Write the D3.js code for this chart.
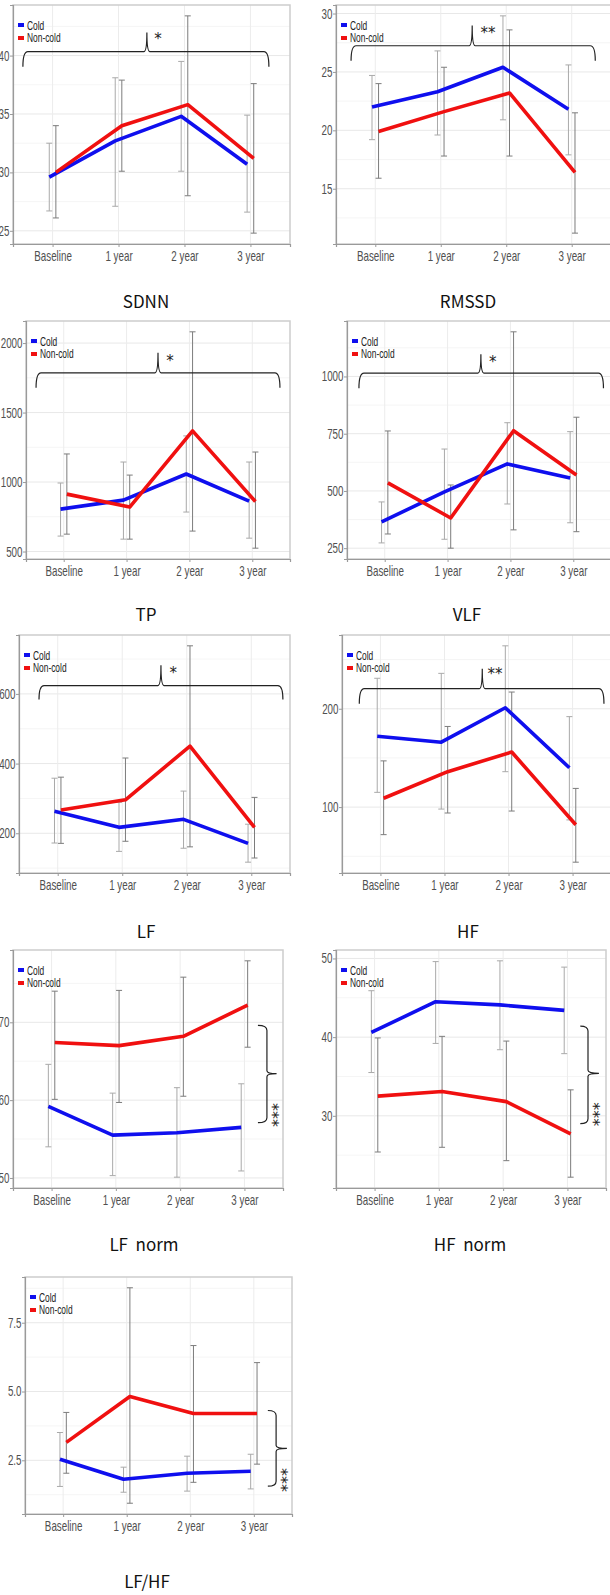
<!DOCTYPE html>
<html>
<head>
<meta charset="utf-8">
<script src="https://cdn.jsdelivr.net/npm/d3@7"></script>
<style>
body { margin: 0; background: #fff; }
svg text { font-family: "Liberation Sans", Arial, sans-serif; }
svg text.title { font-family: "Noto Sans CJK KR", "Noto Sans", sans-serif; font-size: 17px; fill: #111; white-space: pre; }
svg text.star { font-family: "DejaVu Sans", sans-serif; font-size: 15px; fill: #222; }
</style>
</head>
<body>
<script>
var categories = ["Baseline", "1 year", "2 year", "3 year"];
var groups = ["Cold", "Non-cold"];

// SDNN
var sdnnTicks = [25, 30, 35, 40];
var sdnnCold = [29.6, 32.7, 34.8, 30.7];
var sdnnColdLo = [26.7, 27.1, 30.1, 26.6];
var sdnnColdHi = [32.5, 38.1, 39.5, 34.9];
var sdnnNon = [30.0, 34.0, 35.8, 31.2];
var sdnnNonLo = [26.1, 30.1, 28.0, 24.8];
var sdnnNonHi = [34.0, 37.9, 43.4, 37.6];

// RMSSD
var rmssdTicks = [15, 20, 25, 30];
var rmssdCold = [22.0, 23.3, 25.4, 21.8];
var rmssdColdLo = [19.2, 19.6, 20.9, 17.9];
var rmssdColdHi = [24.7, 26.8, 29.8, 25.6];
var rmssdNon = [19.9, 21.6, 23.2, 16.4];
var rmssdNonLo = [15.9, 17.8, 17.8, 11.2];
var rmssdNonHi = [24.0, 25.4, 28.6, 21.5];

// TP
var tpTicks = [500, 1000, 1500, 2000];
var tpCold = [805, 870, 1058, 863];
var tpColdLo = [611, 589, 784, 596];
var tpColdHi = [993, 1144, 1332, 1144];
var tpNon = [913, 820, 1368, 860];
var tpNonLo = [625, 589, 647, 524];
var tpNonHi = [1202, 1050, 2081, 1216];

// VLF
var vlfTicks = [250, 500, 750, 1000];
var vlfCold = [365, 496, 618, 557];
var vlfColdLo = [273, 289, 443, 361];
var vlfColdHi = [452, 683, 798, 759];
var vlfNon = [535, 382, 763, 570];
var vlfNonLo = [312, 250, 330, 322];
var vlfNonHi = [762, 526, 1195, 822];

// LF
var lfTicks = [200, 400, 600];
var lfCold = [263, 217, 240, 171];
var lfColdLo = [172, 148, 157, 117];
var lfColdHi = [358, 289, 321, 226];
var lfNon = [267, 296, 450, 217];
var lfNonLo = [171, 177, 161, 129];
var lfNonHi = [361, 416, 738, 303];

// HF
var hfTicks = [100, 200];
var hfCold = [172, 166, 201, 140];
var hfColdLo = [115, 98, 136, 87];
var hfColdHi = [231, 236, 264, 192];
var hfNon = [109, 136, 156, 82];
var hfNonLo = [72, 94, 96, 44];
var hfNonHi = [147, 182, 217, 119];

// LF norm
var lfnTicks = [50, 60, 70];
var lfnCold = [59.2, 55.5, 55.8, 56.5];
var lfnColdLo = [54.0, 50.3, 50.1, 50.9];
var lfnColdHi = [64.6, 60.9, 61.6, 62.1];
var lfnNon = [67.4, 67.0, 68.2, 72.2];
var lfnNonLo = [60.1, 59.7, 60.5, 66.8];
var lfnNonHi = [74.0, 74.1, 75.8, 77.9];

// HF norm
var hfnTicks = [30, 40, 50];
var hfnCold = [40.6, 44.5, 44.1, 43.4];
var hfnColdLo = [35.5, 39.2, 38.4, 37.9];
var hfnColdHi = [45.9, 49.6, 49.7, 48.9];
var hfnNon = [32.5, 33.1, 31.8, 27.7];
var hfnNonLo = [25.4, 26.0, 24.3, 22.2];
var hfnNonHi = [39.9, 40.1, 39.5, 33.3];

// LF/HF
var ratioTicks = [2.5, 5.0, 7.5];
var ratioCold = [2.54, 1.81, 2.03, 2.10];
var ratioColdLo = [1.55, 1.34, 1.38, 1.46];
var ratioColdHi = [3.51, 2.25, 2.65, 2.72];
var ratioNon = [3.15, 4.82, 4.20, 4.20];
var ratioNonLo = [2.03, 0.94, 1.70, 2.36];
var ratioNonHi = [4.24, 8.77, 6.67, 6.05];

var colors = {"Cold": "#0f0fee", "Non-cold": "#f01010"};
var barColors = {"Cold": "#a9a9a9", "Non-cold": "#7c7c7c"};
var sx = 0.7;   // narrow look for the ggplot labels

var svg = d3.select("body").append("svg")
    .attr("width", 610)
    .attr("height", 1595);

// brace positions in category index / data units
var panels = [
  {title: "SDNN", ticks: sdnnTicks, fmt: d3.format("d"),
   cold: sdnnCold, coldLo: sdnnColdLo, coldHi: sdnnColdHi, non: sdnnNon, nonLo: sdnnNonLo, nonHi: sdnnNonHi,
   box: {left: 13, top: 5, right: 290, bottom: 244}, titleX: 146, titleY: 302,
   brace: {dir: "h", i0: -0.45, i1: 3.28, v: 40.34, vEnd: 39.05, iTip: 1.43, vTip: 41.98, iStar: 1.6, vStar: 41.55, label: "*"}},
  {title: "RMSSD", ticks: rmssdTicks, fmt: d3.format("d"),
   cold: rmssdCold, coldLo: rmssdColdLo, coldHi: rmssdColdHi, non: rmssdNon, nonLo: rmssdNonLo, nonHi: rmssdNonHi,
   box: {left: 336, top: 5, right: 611, bottom: 244}, titleX: 468, titleY: 302,
   brace: {dir: "h", i0: -0.37, i1: 3.36, v: 27.24, vEnd: 25.95, iTip: 1.48, vTip: 28.97, iStar: 1.72, vStar: 28.45, label: "**"}},
  {title: "TP", ticks: tpTicks, fmt: d3.format("d"),
   cold: tpCold, coldLo: tpColdLo, coldHi: tpColdHi, non: tpNon, nonLo: tpNonLo, nonHi: tpNonHi,
   box: {left: 26, top: 321, right: 290, bottom: 559}, titleX: 146, titleY: 615,
   brace: {dir: "h", i0: -0.44, i1: 3.44, v: 1786, vEnd: 1678, iTip: 1.5, vTip: 1930, iStar: 1.69, vStar: 1887, label: "*"}},
  {title: "VLF", ticks: vlfTicks, fmt: d3.format("d"),
   cold: vlfCold, coldLo: vlfColdLo, coldHi: vlfColdHi, non: vlfNon, nonLo: vlfNonLo, nonHi: vlfNonHi,
   box: {left: 347, top: 321, right: 611, bottom: 559}, titleX: 467, titleY: 615,
   brace: {dir: "h", i0: -0.41, i1: 3.48, v: 1015, vEnd: 949, iTip: 1.53, vTip: 1097, iStar: 1.72, vStar: 1071, label: "*"}},
  {title: "LF", ticks: lfTicks, fmt: d3.format("d"),
   cold: lfCold, coldLo: lfColdLo, coldHi: lfColdHi, non: lfNon, nonLo: lfNonLo, nonHi: lfNonHi,
   box: {left: 19, top: 635, right: 290, bottom: 873}, titleX: 146, titleY: 932,
   brace: {dir: "h", i0: -0.29, i1: 3.49, v: 624, vEnd: 584, iTip: 1.6, vTip: 682, iStar: 1.79, vStar: 665, label: "*"}},
  {title: "HF", ticks: hfTicks, fmt: d3.format("d"),
   cold: hfCold, coldLo: hfColdLo, coldHi: hfColdHi, non: hfNon, nonLo: hfNonLo, nonHi: hfNonHi,
   box: {left: 342, top: 635, right: 611, bottom: 873}, titleX: 468, titleY: 932,
   brace: {dir: "h", i0: -0.33, i1: 3.49, v: 220.4, vEnd: 205.1, iTip: 1.59, vTip: 240.8, iStar: 1.79, vStar: 236.7, label: "**"}},
  {title: "LF  norm", ticks: lfnTicks, fmt: d3.format("d"),
   cold: lfnCold, coldLo: lfnColdLo, coldHi: lfnColdHi, non: lfnNon, nonLo: lfnNonLo, nonHi: lfnNonHi,
   box: {left: 13, top: 950, right: 283, bottom: 1188}, titleX: 144, titleY: 1245,
   brace: {dir: "v", iHook: 3.21, iLine: 3.35, iTip: 3.5, v0: 69.6, v1: 57.1, vTip: 63.4, iStar: 3.46, vStar: 58.1, label: "***"}},
  {title: "HF  norm", ticks: hfnTicks, fmt: d3.format("d"),
   cold: hfnCold, coldLo: hfnColdLo, coldHi: hfnColdHi, non: hfnNon, nonLo: hfnNonLo, nonHi: hfnNonHi,
   box: {left: 336, top: 950, right: 606, bottom: 1188}, titleX: 470, titleY: 1245,
   brace: {dir: "v", iHook: 3.2, iLine: 3.32, iTip: 3.49, v0: 41.4, v1: 29.0, vTip: 35.4, iStar: 3.43, vStar: 30.2, label: "***"}},
  {title: "LF/HF", ticks: ratioTicks, fmt: d3.format(".1f"),
   cold: ratioCold, coldLo: ratioColdLo, coldHi: ratioColdHi, non: ratioNon, nonLo: ratioNonLo, nonHi: ratioNonHi,
   box: {left: 25, top: 1277, right: 292, bottom: 1514}, titleX: 147, titleY: 1582,
   brace: {dir: "v", iHook: 3.22, iLine: 3.35, iTip: 3.52, v0: 4.31, v1: 1.56, vTip: 2.93, iStar: 3.46, vStar: 1.78, label: "***"}}
];

function drawPanel(p) {
    var g = svg.append("g");
    var b = p.box;

    // y range like ggplot: data range plus 5%
    var all = [].concat(p.cold, p.coldLo, p.coldHi, p.non, p.nonLo, p.nonHi);
    var ext = d3.extent(all);
    var pad = (ext[1] - ext[0]) * 0.05;
    var y = d3.scaleLinear().domain([ext[0] - pad, ext[1] + pad]).range([b.bottom, b.top]);
    var x = d3.scalePoint().domain(categories).range([b.left, b.right]).padding(0.6);
    var step = x.step();
    var xi = function(i) { return x(categories[0]) + i * step; };
    var dodge = step * 0.05;

    var clipId = "clip" + panels.indexOf(p);
    g.append("clipPath").attr("id", clipId)
      .append("rect").attr("x", b.left).attr("y", b.top)
      .attr("width", b.right - b.left).attr("height", b.bottom - b.top);

    // grid
    var tstep = p.ticks[1] - p.ticks[0];
    var minor = [];
    for (var k = -1; k < p.ticks.length + 1; k++) {
        var mv = p.ticks[0] + tstep * (k + 0.5);
        if (mv > y.domain()[0] && mv < y.domain()[1]) minor.push(mv);
    }
    var grid = g.append("g");
    grid.selectAll(".minor").data(minor).enter().append("line")
        .attr("x1", b.left).attr("x2", b.right)
        .attr("y1", d => y(d)).attr("y2", d => y(d))
        .attr("stroke", "#f3f3f3").attr("stroke-width", 0.8);
    grid.selectAll(".major").data(p.ticks).enter().append("line")
        .attr("x1", b.left).attr("x2", b.right)
        .attr("y1", d => y(d)).attr("y2", d => y(d))
        .attr("stroke", "#e8e8e8").attr("stroke-width", 1);
    grid.selectAll(".vmajor").data(categories).enter().append("line")
        .attr("x1", d => x(d)).attr("x2", d => x(d))
        .attr("y1", b.top).attr("y2", b.bottom)
        .attr("stroke", "#ececec").attr("stroke-width", 1);

    // border
    g.append("rect")
        .attr("x", b.left).attr("y", b.top)
        .attr("width", b.right - b.left).attr("height", b.bottom - b.top)
        .attr("fill", "none").attr("stroke", "#cdcdcd").attr("stroke-width", 1.5);

    // axes
    var ya = g.append("g").attr("transform", "translate(" + b.left + ",0)")
        .call(d3.axisLeft(y).tickValues(p.ticks).tickFormat(p.fmt).tickSize(3));
    var xa = g.append("g").attr("transform", "translate(0," + b.bottom + ")")
        .call(d3.axisBottom(x).tickSize(3));
    [ya, xa].forEach(function(a) {
        a.select(".domain").attr("stroke", "#9a9a9a").attr("stroke-width", 1.2);
        a.selectAll(".tick line").attr("stroke", "#9a9a9a");
        a.selectAll(".tick text").attr("fill", "#505050").style("font-size", "14px")
            .attr("transform", "scale(" + sx + ",1)");
    });
    ya.selectAll(".tick text").attr("x", -3.5 / sx);
    xa.selectAll(".tick text").attr("y", 7);

    var plot = g.append("g").attr("clip-path", "url(#" + clipId + ")");

    var series = [
        {name: "Cold", mean: p.cold, lo: p.coldLo, hi: p.coldHi, off: -dodge},
        {name: "Non-cold", mean: p.non, lo: p.nonLo, hi: p.nonHi, off: dodge}
    ];

    // error bars
    series.forEach(function(s) {
        var eb = plot.append("g").attr("stroke", barColors[s.name]).attr("stroke-width", 1);
        eb.selectAll(".v").data(categories).enter().append("line")
            .attr("x1", (d, i) => x(d) + s.off).attr("x2", (d, i) => x(d) + s.off)
            .attr("y1", (d, i) => y(s.lo[i])).attr("y2", (d, i) => y(s.hi[i]));
        [s.lo, s.hi].forEach(function(vals) {
            eb.selectAll(null).data(categories).enter().append("line")
                .attr("x1", (d, i) => x(d) + s.off - 3).attr("x2", (d, i) => x(d) + s.off + 3)
                .attr("y1", (d, i) => y(vals[i])).attr("y2", (d, i) => y(vals[i]));
        });
    });

    // mean lines
    series.forEach(function(s) {
        var line = d3.line()
            .x((d, i) => x(categories[i]) + s.off)
            .y(d => y(d));
        plot.append("path")
            .datum(s.mean)
            .attr("d", line)
            .attr("fill", "none")
            .attr("stroke", colors[s.name])
            .attr("stroke-width", 3.6)
            .attr("stroke-linejoin", "round");
    });

    // legend
    var leg = g.append("g").attr("transform", "translate(" + (b.left + 5) + "," + (b.top + 20) + ")");
    groups.forEach(function(name, i) {
        leg.append("rect").attr("x", 0).attr("y", i * 13 - 2).attr("width", 6).attr("height", 4)
            .attr("fill", colors[name]);
        leg.append("text").attr("x", 9 / sx).attr("y", i * 13 + 4.5)
            .attr("transform", "scale(" + sx + ",1)")
            .style("font-size", "12px").attr("fill", "#222").text(name);
    });

    // significance brace
    var br = p.brace;
    var path;
    if (br.dir === "h") {
        var X0 = xi(br.i0), X1 = xi(br.i1), XT = xi(br.iTip);
        var Y = y(br.v), YE = y(br.vEnd), YT = y(br.vTip), r = 5;
        path = "M" + X0 + "," + YE + " Q" + X0 + "," + Y + " " + (X0 + r) + "," + Y +
            " L" + (XT - 3) + "," + Y + " Q" + XT + "," + Y + " " + XT + "," + YT +
            " Q" + XT + "," + Y + " " + (XT + 3) + "," + Y +
            " L" + (X1 - r) + "," + Y + " Q" + X1 + "," + Y + " " + X1 + "," + YE;
        g.append("text").attr("class", "star")
            .attr("x", xi(br.iStar)).attr("y", y(br.vStar)).attr("dy", "0.45em")
            .attr("text-anchor", "middle").text(br.label);
    } else {
        var XH = xi(br.iHook), XV = xi(br.iLine), XTv = xi(br.iTip);
        var Y0 = y(br.v0), Y1 = y(br.v1), YM = y(br.vTip), rv = 5;
        path = "M" + XH + "," + Y0 + " Q" + XV + "," + Y0 + " " + XV + "," + (Y0 + rv) +
            " L" + XV + "," + (YM - 3) + " Q" + XV + "," + YM + " " + XTv + "," + YM +
            " Q" + XV + "," + YM + " " + XV + "," + (YM + 3) +
            " L" + XV + "," + (Y1 - rv) + " Q" + XV + "," + Y1 + " " + XH + "," + Y1;
        g.append("text").attr("class", "star")
            .attr("transform", "translate(" + xi(br.iStar) + "," + y(br.vStar) + ") rotate(90)")
            .attr("dy", "0.45em").attr("text-anchor", "middle").style("font-size", "16px").text(br.label);
    }
    g.append("path").attr("d", path).attr("fill", "none")
        .attr("stroke", "#222").attr("stroke-width", 1.2);

    // caption
    g.append("text").attr("class", "title")
        .attr("x", p.titleX).attr("y", p.titleY).attr("dy", "0.35em")
        .attr("text-anchor", "middle").text(p.title);
}

panels.forEach(drawPanel);
</script>
</body>
</html>
